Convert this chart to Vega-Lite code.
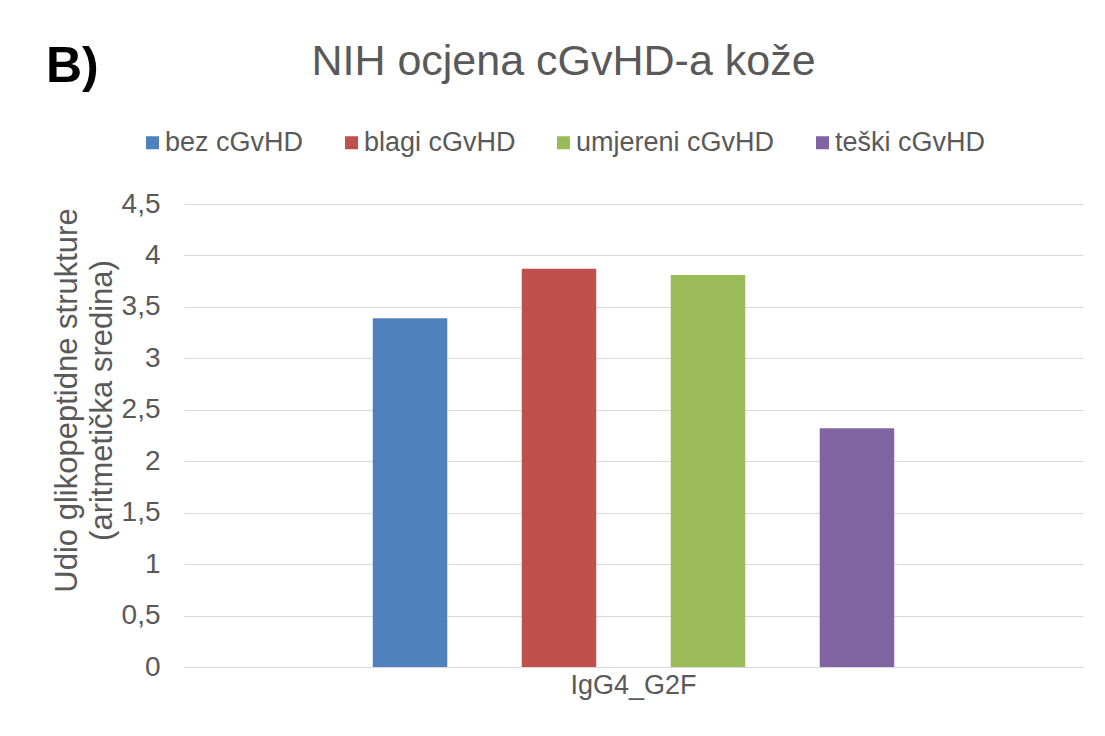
{
  "$schema": "https://vega.github.io/schema/vega-lite/v6.json",
  "background": "white",
  "padding": {"left": 46, "top": 41, "right": 5, "bottom": 5},
  "title": {
    "text": "B)",
    "anchor": "start",
    "font": "Liberation Sans",
    "fontSize": 50,
    "fontWeight": "bold",
    "color": "#000000",
    "offset": -51,
    "dx": -5
  },
  "vconcat": [
    {
      "width": 899,
      "height": 463,
      "title": {
        "text": "NIH ocjena cGvHD-a kože",
        "anchor": "middle",
        "frame": "group",
        "font": "Liberation Sans",
        "fontSize": 43,
        "fontWeight": "normal",
        "color": "#595959",
        "dx": -70,
        "offset": 106
      },
      "data": {
        "values": [
          {"glycan": "IgG4_G2F", "group": "bez cGvHD", "value": 3.39},
          {"glycan": "IgG4_G2F", "group": "blagi cGvHD", "value": 3.87},
          {"glycan": "IgG4_G2F", "group": "umjereni cGvHD", "value": 3.81},
          {"glycan": "IgG4_G2F", "group": "teški cGvHD", "value": 2.32}
        ]
      },
      "mark": {"type": "bar"},
      "encoding": {
        "x": {
          "field": "glycan",
          "type": "nominal",
          "scale": {"paddingInner": 0, "paddingOuter": 0.362},
          "axis": {
            "title": null,
            "labelAngle": 0,
            "ticks": false,
            "domain": true,
            "domainColor": "#d9d9d9",
            "domainWidth": 1,
            "labelFont": "Liberation Sans",
            "labelFontSize": 27,
            "labelColor": "#595959",
            "labelPadding": 5
          }
        },
        "xOffset": {
          "field": "group",
          "type": "nominal",
          "sort": ["bez cGvHD", "blagi cGvHD", "umjereni cGvHD", "teški cGvHD"],
          "scale": {"paddingInner": 0.5, "paddingOuter": 0}
        },
        "y": {
          "field": "value",
          "type": "quantitative",
          "scale": {"domain": [0, 4.5], "nice": false},
          "axis": {
            "values": [0, 0.5, 1, 1.5, 2, 2.5, 3, 3.5, 4, 4.5],
            "format": "~g",
            "labelExpr": "replace(datum.label, '.', ',')",
            "title": ["Udio glikopeptidne strukture", "(aritmetička sredina)"],
            "titleFont": "Liberation Sans",
            "titleFontSize": 31,
            "titleFontWeight": "normal",
            "titleColor": "#595959",
            "titleLineHeight": 35,
            "titleAngle": 270,
            "titleAlign": "center",
            "titleBaseline": "top",
            "titleX": -132,
            "titleY": 196,
            "domain": false,
            "ticks": false,
            "grid": true,
            "gridColor": "#d9d9d9",
            "gridWidth": 1,
            "labelFont": "Liberation Sans",
            "labelFontSize": 28,
            "labelColor": "#595959",
            "labelPadding": 24
          }
        },
        "color": {
          "field": "group",
          "type": "nominal",
          "sort": ["bez cGvHD", "blagi cGvHD", "umjereni cGvHD", "teški cGvHD"],
          "scale": {
            "domain": ["bez cGvHD", "blagi cGvHD", "umjereni cGvHD", "teški cGvHD"],
            "range": ["#4F81BD", "#C0504D", "#9BBB59", "#8064A2"]
          },
          "legend": {
            "title": null,
            "orient": "none",
            "direction": "horizontal",
            "legendX": -45,
            "legendY": -75,
            "symbolType": "square",
            "symbolSize": 169,
            "symbolStrokeWidth": 0,
            "labelFont": "Liberation Sans",
            "labelFontSize": 27,
            "labelColor": "#595959",
            "labelOffset": -1,
            "labelLimit": 0,
            "columnPadding": 34
          }
        }
      }
    }
  ],
  "config": {
    "view": {"stroke": null}
  }
}
